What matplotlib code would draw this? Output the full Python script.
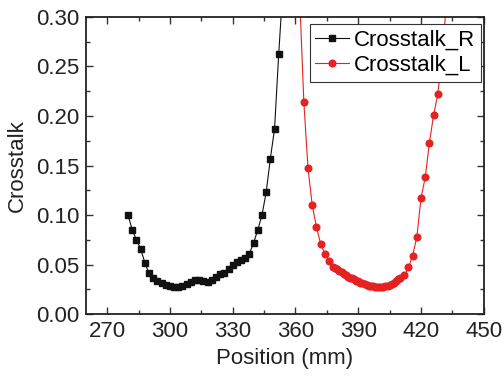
import matplotlib
matplotlib.use("Agg")
import matplotlib.pyplot as plt
from matplotlib.ticker import MultipleLocator, FormatStrFormatter

plt.rcParams['font.family'] = ['Liberation Sans', 'DejaVu Sans']

# Crosstalk_R (black squares)
pos_r = [280, 282, 284, 286, 288, 290, 292, 294, 296, 298, 300, 302, 304, 306,
         308, 310, 312, 314, 316, 318, 320, 322, 324, 326, 328, 330, 332, 334,
         336, 338, 340, 342, 344, 346, 348, 350, 352, 354]
val_r = [0.100, 0.085, 0.075, 0.066, 0.052, 0.041, 0.036, 0.033, 0.031, 0.029,
         0.028, 0.027, 0.027, 0.028, 0.030, 0.032, 0.034, 0.034, 0.033, 0.032,
         0.034, 0.037, 0.040, 0.041, 0.045, 0.050, 0.053, 0.055, 0.057, 0.061,
         0.072, 0.085, 0.100, 0.123, 0.157, 0.187, 0.263, 0.330]

# Crosstalk_L (red circles)
pos_l = [362, 364, 366, 368, 370, 372, 374, 376, 378, 379, 380, 381, 382, 383,
         384, 385, 386, 387, 388, 389, 390, 391, 392, 393, 394, 395, 396, 397,
         398, 399, 400, 401, 402, 403, 404, 405, 406, 407, 408, 409, 410, 412,
         414, 416, 418, 420, 422, 424, 426, 428, 430, 432]
val_l = [0.320, 0.214, 0.147, 0.110, 0.088, 0.071, 0.061, 0.054, 0.047, 0.046,
         0.045, 0.043, 0.042, 0.040, 0.039, 0.0375, 0.0365, 0.036, 0.035, 0.0338,
         0.033, 0.0318, 0.031, 0.030, 0.029, 0.0285, 0.028, 0.028, 0.0277, 0.0276,
         0.0276, 0.0276, 0.0278, 0.028, 0.0285, 0.029, 0.030, 0.0315, 0.0335,
         0.035, 0.036, 0.039, 0.047, 0.059, 0.078, 0.1175, 0.138, 0.173, 0.201,
         0.222, 0.260, 0.310]

fig = plt.figure(figsize=(5.04, 3.77), dpi=100)
ax = fig.add_axes([0.171, 0.167, 0.789, 0.788])

ax.plot(pos_r, val_r, color='#111111', lw=0.8, marker='s', ms=4,
        label='Crosstalk_R')
ax.plot(pos_l, val_l, color='#e52222', lw=0.8, marker='o', ms=4.8,
        label='Crosstalk_L')

ax.set_xlim(260, 450)
ax.set_ylim(0, 0.30)
ax.xaxis.set_major_locator(MultipleLocator(30))
ax.xaxis.set_minor_locator(MultipleLocator(15))
ax.yaxis.set_major_locator(MultipleLocator(0.05))
ax.yaxis.set_minor_locator(MultipleLocator(0.025))
ax.yaxis.set_major_formatter(FormatStrFormatter('%.2f'))

ax.tick_params(which='both', direction='in', top=True, right=True,
               labelsize=16, width=1, color='#333333', labelcolor='#222222')
ax.tick_params(which='major', length=5, pad=5)
ax.tick_params(which='minor', length=3)
for s in ax.spines.values():
    s.set_linewidth(1.3)
    s.set_color('#222222')

ax.set_xlabel('Position (mm)', fontsize=16, color='#222222')
ax.set_ylabel('Crosstalk', fontsize=16, color='#222222', labelpad=6)

leg = ax.legend(loc='upper right', bbox_to_anchor=(0.993, 0.976), fontsize=16,
                fancybox=False, framealpha=1, edgecolor='#333333',
                handlelength=1.5, handletextpad=0.25, borderpad=0.25,
                labelspacing=0.2, borderaxespad=0)
leg.get_frame().set_linewidth(0.8)

fig.savefig('out.png', dpi=100)
